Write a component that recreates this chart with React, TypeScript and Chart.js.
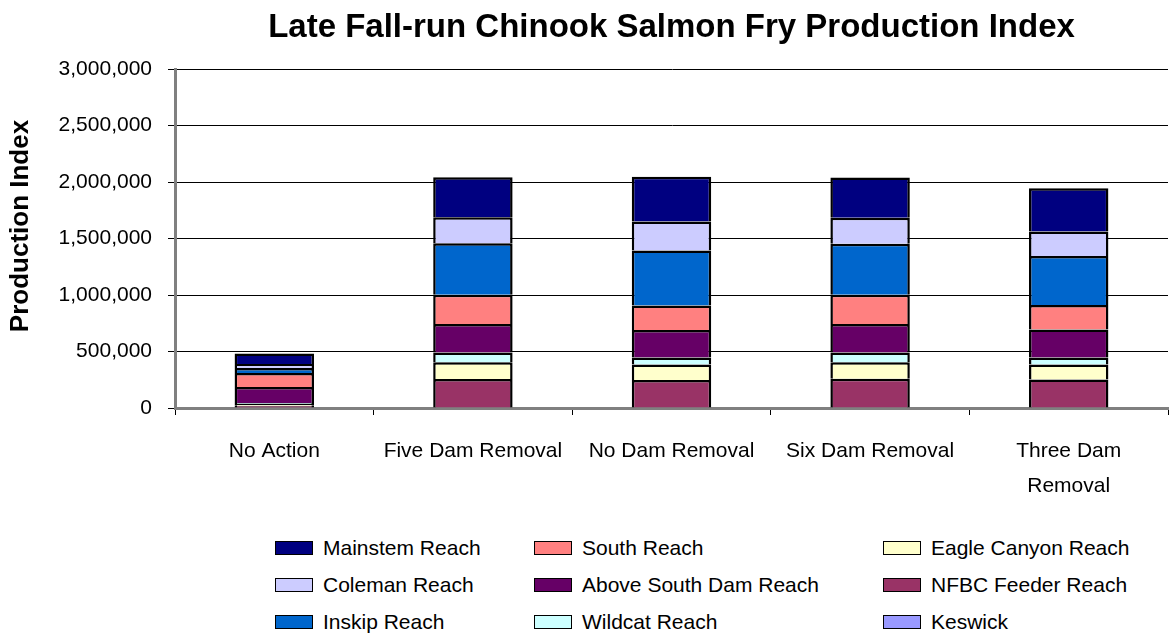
import React, { useEffect, useRef } from "react";
import { Chart, registerables } from "chart.js";

Chart.register(...registerables);

const FONT = "'Liberation Sans', Arial, sans-serif";

const categories: (string | string[])[] = [
  "No Action",
  "Five Dam Removal",
  "No Dam Removal",
  "Six Dam Removal",
  ["Three Dam", "Removal"],
];

// Stack order bottom -> top
const keswick = [0, 0, 0, 0, 0];
const nfbcFeeder = [20000, 257000, 248000, 258000, 252000];
const eagleCanyon = [15000, 147000, 137000, 146000, 133000];
const wildcat = [10000, 87000, 62000, 87000, 62000];
const aboveSouthDam = [141000, 252000, 243000, 252000, 248000];
const south = [124000, 260000, 217000, 259000, 217000];
const inskip = [44000, 455000, 487000, 452000, 433000];
const coleman = [35000, 230000, 256000, 230000, 217000];
const mainstem = [93000, 354000, 397000, 356000, 382000];

const yTicks = [0, 500000, 1000000, 1500000, 2000000, 2500000, 3000000];

const seriesNames = [
  "Keswick",
  "NFBC Feeder Reach",
  "Eagle Canyon Reach",
  "Wildcat Reach",
  "Above South Dam Reach",
  "South Reach",
  "Inskip Reach",
  "Coleman Reach",
  "Mainstem Reach",
];
const seriesValues = [keswick, nfbcFeeder, eagleCanyon, wildcat, aboveSouthDam, south, inskip, coleman, mainstem];
const seriesColors = ["#9999FF", "#993366", "#FFFFCC", "#CCFFFF", "#660066", "#FF8080", "#0066CC", "#CCCCFF", "#000080"];

const yAxisTitle = "Production Index";
const chartTitle = "Late Fall-run Chinook Salmon Fry Production Index";

// Legend layout (row-major, three columns)
const legendRows = [
  ["Mainstem Reach", "South Reach", "Eagle Canyon Reach"],
  ["Coleman Reach", "Above South Dam Reach", "NFBC Feeder Reach"],
  ["Inskip Reach", "Wildcat Reach", "Keswick"],
];
const legendColLeft = [275, 534, 883];
const legendRowCenter = [548, 585, 622];

const yTitlePlugin = {
  id: "yTitlePlugin",
  afterDraw(chart: any) {
    const ctx = chart.ctx;
    ctx.save();
    ctx.translate(21, 226);
    ctx.rotate(-Math.PI / 2);
    ctx.font = `bold 26px ${FONT}`;
    ctx.fillStyle = "#000000";
    ctx.textAlign = "center";
    ctx.textBaseline = "middle";
    ctx.fillText(yAxisTitle, 0, 0);
    ctx.restore();
  },
};

export default function App() {
  const canvasRef = useRef<HTMLCanvasElement | null>(null);

  useEffect(() => {
    if (!canvasRef.current) return;
    const chart = new Chart(canvasRef.current, {
      type: "bar",
      data: {
        labels: categories as any,
        datasets: seriesNames.map((name, i) => ({
          label: name,
          data: seriesValues[i],
          backgroundColor: seriesColors[i],
          borderColor: "#000000",
          borderWidth: 2.5,
          barPercentage: 0.4,
          categoryPercentage: 1.0,
        })),
      },
      plugins: [yTitlePlugin],
      options: {
        responsive: true,
        maintainAspectRatio: false,
        animation: false,
        layout: { padding: { left: 0, right: 1, top: 0, bottom: 0 } },
        plugins: {
          legend: { display: false },
          tooltip: { enabled: false },
          title: {
            display: true,
            text: chartTitle,
            color: "#000000",
            fullSize: false,
            font: { family: FONT, size: 33, weight: "bold" },
            padding: { top: 8, bottom: 21.4 },
          },
        },
        scales: {
          x: {
            stacked: true,
            grid: {
              offset: true,
              drawOnChartArea: false,
              drawTicks: true,
              tickLength: 7,
              tickColor: "#000000",
              lineWidth: 1,
            },
            border: { display: true, color: "#808080", width: 3 },
            ticks: {
              color: "#000000",
              font: { family: FONT, size: 21, lineHeight: 1.7 },
              padding: 18,
              maxRotation: 0,
              autoSkip: false,
            },
            afterFit: (scale: any) => {
              scale.height = 97;
            },
          },
          y: {
            stacked: true,
            min: 0,
            max: 3000000,
            afterBuildTicks: (scale: any) => {
              scale.ticks = yTicks.map((v) => ({ value: v }));
            },
            grid: {
              color: "#000000",
              lineWidth: 1,
              drawTicks: true,
              tickLength: 7,
              tickColor: "#000000",
            },
            border: { display: true, color: "#808080", width: 3 },
            ticks: {
              color: "#000000",
              font: { family: FONT, size: 21 },
              padding: 16,
              callback: (v: any) => Number(v).toLocaleString("en-US"),
            },
            title: { display: false },
            afterFit: (scale: any) => {
              scale.width = 175;
            },
          },
        },
      },
    });
    return () => chart.destroy();
  }, []);

  const colorOf = (name: string) => seriesColors[seriesNames.indexOf(name)];

  return (
    <div
      style={{
        position: "fixed",
        left: 0,
        top: 0,
        width: 1169,
        height: 635,
        background: "#ffffff",
        fontFamily: FONT,
      }}
    >
      <div style={{ position: "absolute", left: 0, top: 0, width: 1169, height: 505 }}>
        <canvas ref={canvasRef} />
      </div>
      {legendRows.map((row, r) =>
        row.map((name, c) => (
          <div
            key={name}
            style={{
              position: "absolute",
              left: legendColLeft[c],
              top: legendRowCenter[r] - 12,
              height: 24,
              display: "flex",
              alignItems: "center",
              whiteSpace: "nowrap",
            }}
          >
            <span
              style={{
                display: "inline-block",
                width: 36,
                height: 12,
                background: colorOf(name),
                border: "1px solid #000000",
              }}
            />
            <span style={{ marginLeft: 10, fontSize: 21, color: "#000000", lineHeight: "24px" }}>{name}</span>
          </div>
        ))
      )}
    </div>
  );
}
